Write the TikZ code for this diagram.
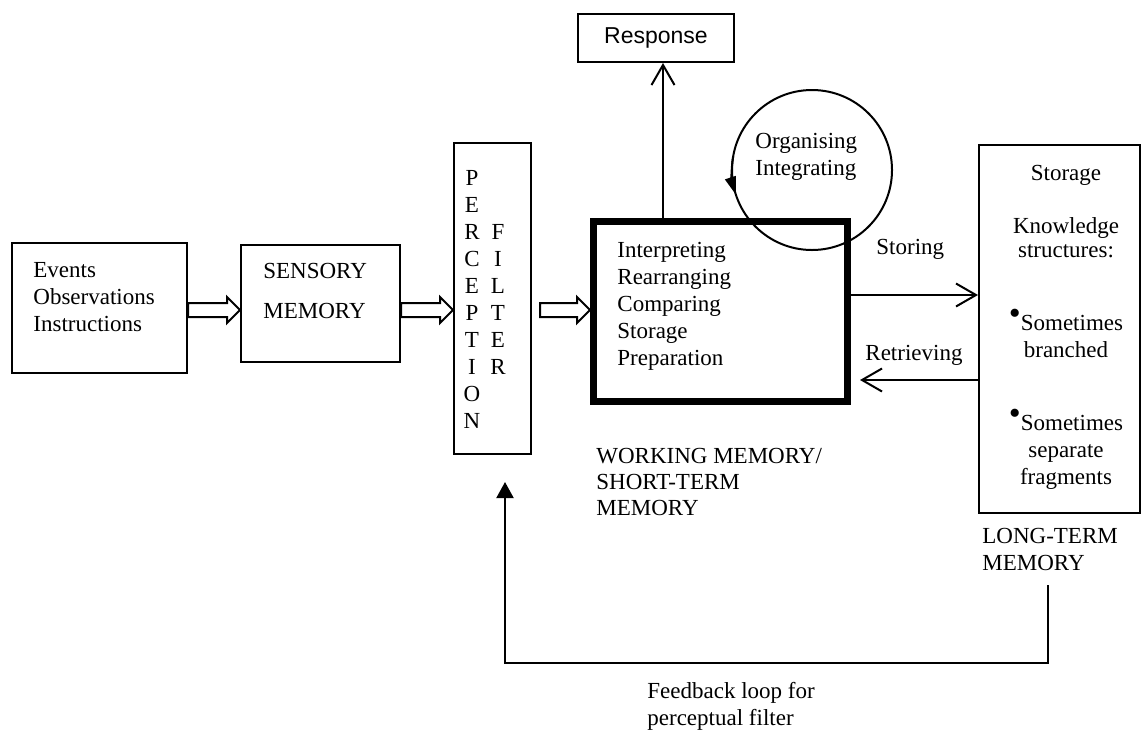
\documentclass[tikz,border=0pt]{standalone}
\usepackage{fontspec}
\setmainfont{Liberation Serif}
\newfontfamily\respfont{Liberation Sans}
\usetikzlibrary{arrows.meta,calc}
\newcommand{\dotmark}{\raisebox{0.25em}{\fontsize{17}{17}\selectfont\textbullet}}

\begin{document}
\begin{tikzpicture}[
  x=0.5pt, y=-0.5pt,
  font=\fontsize{11.5}{13.5}\selectfont,
  box/.style={draw, line width=1pt, inner sep=0pt},
  wmbox/.style={draw, line width=3.5pt, inner sep=0pt},
  txt/.style={inner sep=0pt, align=left},
  ctxt/.style={inner sep=0pt, align=center},
  link/.style={line width=1pt, -{Straight Barb[length=10pt,width=11.5pt]}},
  fatarrow/.style={line width=1pt, to path={
    ($(\tikztostart)+(#1,-7)$) -- ($(\tikztotarget)+(-13,-7)$)
    -- ($(\tikztotarget)+(-13,-13)$) -- (\tikztotarget)
    -- ($(\tikztotarget)+(-13,13)$) -- ($(\tikztotarget)+(-13,7)$)
    -- ($(\tikztostart)+(#1,7)$) -- cycle}},
  fatarrow/.default=0,
]

\useasboundingbox (0,0) rectangle (1145,729);

% Input and sensory stages
\node[box, minimum width=87.5pt, minimum height=65pt] (ev) at (99.5,308) {};
\node[txt, anchor=north west] (evtxt) at (33,262) {Events\\Observations\\Instructions};
\node[box, minimum width=79.5pt, minimum height=58.5pt] (sm) at (320.5,303.5) {};
\node[txt, anchor=north west, font=\fontsize{11.5}{20}\selectfont] (smtxt) at (263,263) {SENSORY\\MEMORY};

% Perception filter
\node[box, minimum width=38.5pt, minimum height=155.5pt] (pf) at (492.5,298.5) {};
\node[ctxt, anchor=north] (pfa) at (472,170) {P\\E\\R\\C\\E\\P\\T\\I\\O\\N};
\node[ctxt, anchor=north] (pfb) at (498,224) {F\\I\\L\\T\\E\\R};

% Working memory
\node[wmbox, minimum width=127pt, minimum height=90pt] (wm) at (720.5,311.5) {};
\node[txt, anchor=north west] (wmtxt) at (617,242) {Interpreting\\Rearranging\\Comparing\\Storage\\Preparation};
\node[txt, anchor=north west, font=\fontsize{11.5}{13}\selectfont] (wmlabel) at (596,448) {WORKING MEMORY/\\SHORT-TERM\\MEMORY};

% Organising loop
\node[circle, draw, line width=1pt, minimum size=80pt, outer sep=0pt] (loop) at (812,170) {};
\node[txt, anchor=north west] (looptxt) at (755,133) {Organising\\Integrating};
\draw[line width=1pt, -{Triangle[length=9pt,width=5.5pt]}] (loop.170) arc[start angle=-170, end angle=-198, radius=80];

% Response
\node[box, minimum width=78pt, minimum height=24pt, font=\respfont\fontsize{11.5}{13.5}\selectfont] (resp) at (656,38) {Response};

% Long-term memory
\node[box, minimum width=80.5pt, minimum height=184pt] (ltm) at (1059.5,329) {};
\node[ctxt, anchor=base] (ltmhead) at (1066,180) {Storage};
\node[ctxt, anchor=north, font=\fontsize{11.5}{12}\selectfont] (ltmks) at (1066,217) {Knowledge\\structures:};
\node[ctxt, anchor=north] (ltmb1) at (1066,309) {\dotmark Sometimes\\branched};
\node[ctxt, anchor=north] (ltmb2) at (1066,409) {\dotmark Sometimes\\separate\\fragments};
\node[txt, anchor=north west] (ltmlabel) at (982,528) {LONG-TERM\\MEMORY};

% Flow arrows
\draw[fatarrow] (ev.east |- 0,310) to (sm.west |- 0,310);
\draw[fatarrow] (sm.east |- 0,310) to (pf.west |- 0,310);
\draw[fatarrow=8] (pf.east |- 0,310) to (wm.west |- 0,310);

\draw[link] (663,0 |- wm.north) -- (663,0 |- resp.south);
\draw[link] (wm.east |- 0,295) -- (ltm.west |- 0,295);
\draw[link, shorten >=4.5pt] (ltm.west |- 0,380) -- (wm.east |- 0,380);
\node[txt, anchor=base west] (storing) at (876,254) {Storing};
\node[txt, anchor=base west] (retrieving) at (865,360) {Retrieving};

% Feedback loop
\coordinate (fbstart) at (1048,585);
\draw[line width=1pt, -{Triangle[length=8pt,width=8.5pt]}, shorten >=13.5pt]
  (fbstart) |- (505,663) -- (505,0 |- pf.south);
\node[txt, anchor=north west] (fbtxt) at (647,682) {Feedback loop for\\perceptual filter};

\end{tikzpicture}
\end{document}
